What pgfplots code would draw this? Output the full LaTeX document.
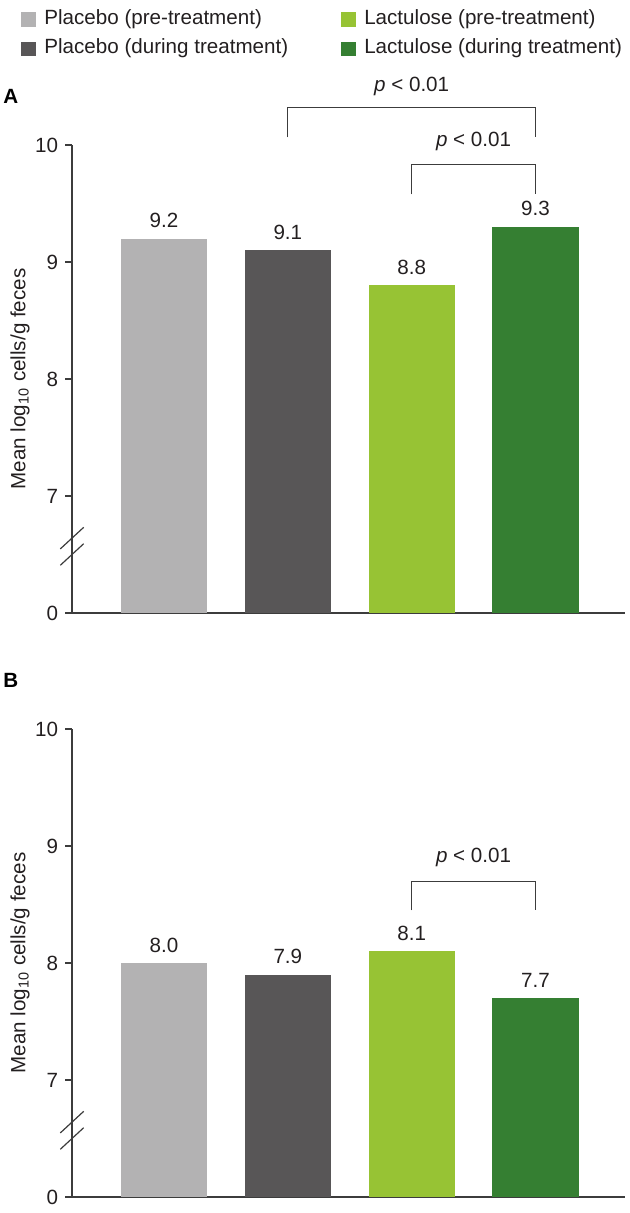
\documentclass[border=0pt]{standalone}
\usepackage{fontspec}
\setmainfont{Liberation Sans}
\usepackage{pgfplots}
\pgfplotsset{compat=1.18}
\definecolor{lgray}{RGB}{179,178,179}
\definecolor{dgray}{RGB}{88,86,87}
\definecolor{lgreen}{RGB}{151,195,52}
\definecolor{dgreen}{RGB}{53,127,50}
\definecolor{axcol}{RGB}{60,60,60}
\definecolor{txt}{RGB}{35,31,32}
\newcommand\fs{\fontsize{10.3}{12.4}\selectfont}
\pgfplotsset{
 panel/.style={
  scale only axis, width=276.5pt, height=234pt,
  xmin=-0.743, xmax=3.723, ymin=6, ymax=10,
  axis x line=bottom, axis y line=left,
  axis line style={axcol, line width=0.8pt, -},
  ytick={6,7,8,9,10}, yticklabels={0,7,8,9,10},
  xtick=\empty,
  tick align=outside, major tick length=3.4pt,
  ytick style={axcol, line width=0.8pt},
  ybar, bar width=0.695,
  every axis plot/.append style={draw=none, bar shift=0pt,
    legend image code/.code={\fill[##1] (0pt,-3.6pt) rectangle (7.2pt,3.6pt);}},
  clip mode=individual,
  nodes near coords={\pgfmathprintnumber[fixed,fixed zerofill,precision=1,assume math mode=true]{\pgfplotspointmeta}},
  every node near coord/.append style={anchor=south, inner sep=0pt, yshift=5.2pt, font=\fs, text=txt},
  ticklabel style={font=\fs, text=txt},
  ylabel={Mean log\textsubscript{10} cells/g feces},
  ylabel style={at={(axis description cs:-0.094,0.5)}, anchor=center, font=\fs, text=txt},
 }
}
\begin{document}
\begin{tikzpicture}
\path[use as bounding box] (-36pt,-300pt) rectangle (279pt,306.5pt);
% Panel A
\begin{axis}[panel,
  legend columns=2,
  legend cell align=left,
  legend style={at={(axis description cs:0,1)}, anchor=north west,
    xshift=-25.5pt, yshift=68pt, draw=none, fill=none, inner sep=0pt,
    font=\fs, text=txt,
    nodes={inner sep=0pt, text height=0.75em, text depth=0.25em},
    row sep=4.7pt,
    /tikz/every odd column/.append style={column sep=4.3pt},
    /tikz/every even column/.append style={column sep=26.5pt}},
]
\addplot[fill=lgray] coordinates {(0,9.2)};
\addlegendentry{Placebo (pre-treatment)}
\addplot[fill=lgreen] coordinates {(2,8.8)};
\addlegendentry{Lactulose (pre-treatment)}
\addplot[fill=dgray] coordinates {(1,9.1)};
\addlegendentry{Placebo (during treatment)}
\addplot[fill=dgreen] coordinates {(3,9.3)};
\addlegendentry{Lactulose (during treatment)}
\draw[axcol, line width=0.55pt] (axis cs:1,10.066) |- (axis cs:3,10.319) -- (axis cs:3,10.066);
\draw[axcol, line width=0.55pt] (axis cs:2,9.579) |- (axis cs:3,9.835) -- (axis cs:3,9.579);
\node[font=\fs, text=txt] at (axis cs:2,10.504) {\textit{p} < 0.01};
\node[font=\fs, text=txt] at (axis cs:2.5,10.028) {\textit{p} < 0.01};
\draw[axcol, line width=0.6pt] (axis cs:-0.743,6.64) ++(-5.85pt,-5.4pt) -- ++(11.7pt,10.8pt);
\draw[axcol, line width=0.6pt] (axis cs:-0.743,6.50) ++(-5.85pt,-5.4pt) -- ++(11.7pt,10.8pt);
\node[font=\fs\bfseries, text=black] at (axis description cs:-0.1107,1.1047) {A};
\end{axis}
% Panel B
\begin{axis}[panel, at={(0pt,-292pt)}]
\addplot[fill=lgray] coordinates {(0,8.0)};
\addplot[fill=dgray] coordinates {(1,7.9)};
\addplot[fill=lgreen] coordinates {(2,8.1)};
\addplot[fill=dgreen] coordinates {(3,7.7)};
\draw[axcol, line width=0.55pt] (axis cs:2,8.45) |- (axis cs:3,8.70) -- (axis cs:3,8.45);
\node[font=\fs, text=txt] at (axis cs:2.5,8.906) {\textit{p} < 0.01};
\draw[axcol, line width=0.6pt] (axis cs:-0.743,6.64) ++(-5.85pt,-5.4pt) -- ++(11.7pt,10.8pt);
\draw[axcol, line width=0.6pt] (axis cs:-0.743,6.50) ++(-5.85pt,-5.4pt) -- ++(11.7pt,10.8pt);
\node[font=\fs\bfseries, text=black] at (axis description cs:-0.1107,1.1047) {B};
\end{axis}
\end{tikzpicture}
\end{document}
